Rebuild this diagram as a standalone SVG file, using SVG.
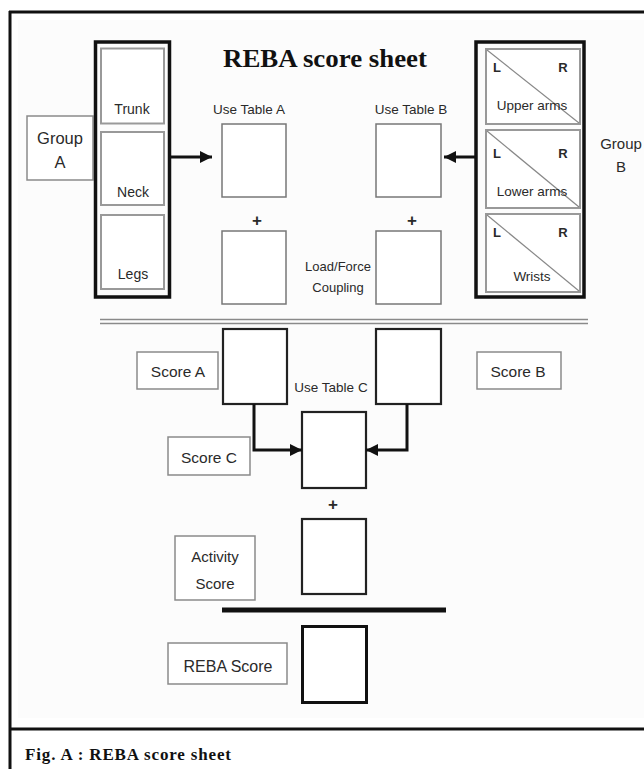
<svg xmlns="http://www.w3.org/2000/svg" width="644" height="769" viewBox="0 0 644 769">
  <defs>
    <marker id="ah" markerUnits="userSpaceOnUse" markerWidth="12" markerHeight="12" viewBox="0 0 12 12" refX="12" refY="6" orient="auto">
      <path d="M0,0 L12,6 L0,12 z" fill="#111"/>
    </marker>
    <style>
      .lbl { font-family: "Liberation Sans", Arial, sans-serif; fill: #2a2a2a; text-anchor: middle; }
      .gbox { fill: #fff; stroke: #8a8a8a; stroke-width: 1.5; }
      .cell { fill: #fff; stroke: #999; stroke-width: 2; }
      .frame { fill: none; stroke: #111; stroke-width: 3.5; }
      .sbox { fill: #fff; stroke: #777; stroke-width: 1.5; }
      .bbox { fill: #fff; stroke: #222; stroke-width: 2.2; }
      .diag { stroke: #888; stroke-width: 1.2; }
      .conn { fill: none; stroke: #111; stroke-width: 3; }
      .serif { font-family: "Liberation Serif", "Times New Roman", serif; font-weight: bold; fill: #111; }
    </style>
  </defs>

  <rect x="0" y="0" width="644" height="769" fill="#fff"/>
  <rect x="18" y="20" width="626" height="698" fill="#fcfcfc"/>

  <!-- outer figure frame -->
  <g id="figure-frame">
    <line x1="9" y1="12" x2="644" y2="12" stroke="#111" stroke-width="3"/>
    <line x1="10" y1="11" x2="10" y2="769" stroke="#111" stroke-width="3"/>
    <line x1="10" y1="729" x2="644" y2="729" stroke="#111" stroke-width="3"/>
  </g>

  <g id="title">
    <text class="serif" x="325" y="67" font-size="25" text-anchor="middle" textLength="204" lengthAdjust="spacingAndGlyphs">REBA score sheet</text>
  </g>

  <!-- Group A -->
  <g id="group-a-label">
    <rect class="gbox" x="27" y="116" width="66" height="64"/>
    <text class="lbl" x="60" y="144" font-size="16.5">Group</text>
    <text class="lbl" x="60" y="168" font-size="16.5">A</text>
  </g>
  <g id="group-a">
    <rect class="frame" x="95.5" y="42" width="74" height="255"/>
    <g id="trunk">
      <rect class="cell" x="101" y="48.5" width="63" height="75"/>
      <text class="lbl" x="132" y="114" font-size="14">Trunk</text>
    </g>
    <g id="neck">
      <rect class="cell" x="101" y="132" width="63" height="73"/>
      <text class="lbl" x="133" y="197" font-size="14">Neck</text>
    </g>
    <g id="legs">
      <rect class="cell" x="101" y="215" width="63" height="74"/>
      <text class="lbl" x="133" y="279" font-size="14">Legs</text>
    </g>
  </g>

  <!-- Table A column -->
  <g id="use-table-a">
    <text class="lbl" x="249" y="114" font-size="13.5">Use Table A</text>
    <rect class="sbox" x="222" y="124" width="64" height="73"/>
  </g>
  <g id="plus-a"><text class="lbl" x="257" y="226" font-size="17" font-weight="bold">+</text></g>
  <g id="load-a">
    <rect class="sbox" x="222" y="231" width="64" height="73"/>
  </g>

  <!-- Table B column -->
  <g id="use-table-b">
    <text class="lbl" x="411" y="114" font-size="13.5">Use Table B</text>
    <rect class="sbox" x="376" y="124" width="65" height="73"/>
  </g>
  <g id="plus-b"><text class="lbl" x="412" y="226" font-size="17" font-weight="bold">+</text></g>
  <g id="load-b">
    <rect class="sbox" x="376" y="231" width="65" height="73"/>
  </g>
  <g id="load-force-label">
    <text class="lbl" x="338" y="271" font-size="13">Load/Force</text>
    <text class="lbl" x="338" y="292" font-size="13">Coupling</text>
  </g>

  <!-- Group B -->
  <g id="group-b">
    <rect class="frame" x="476" y="42" width="108" height="255"/>
    <g id="upper-arms">
      <rect class="cell" x="486" y="49" width="94" height="75"/>
      <line class="diag" x1="487" y1="50" x2="579" y2="123"/>
      <text class="lbl" x="497" y="72" font-size="13" font-weight="bold">L</text>
      <text class="lbl" x="563" y="72" font-size="13" font-weight="bold">R</text>
      <text class="lbl" x="532" y="110" font-size="13.5">Upper arms</text>
    </g>
    <g id="lower-arms">
      <rect class="cell" x="486" y="130" width="94" height="78"/>
      <line class="diag" x1="487" y1="131" x2="579" y2="207"/>
      <text class="lbl" x="497" y="158" font-size="13" font-weight="bold">L</text>
      <text class="lbl" x="563" y="158" font-size="13" font-weight="bold">R</text>
      <text class="lbl" x="532" y="196" font-size="13.5">Lower arms</text>
    </g>
    <g id="wrists">
      <rect class="cell" x="486" y="214" width="94" height="78"/>
      <line class="diag" x1="487" y1="215" x2="579" y2="291"/>
      <text class="lbl" x="497" y="237" font-size="13" font-weight="bold">L</text>
      <text class="lbl" x="563" y="237" font-size="13" font-weight="bold">R</text>
      <text class="lbl" x="532" y="281" font-size="13.5">Wrists</text>
    </g>
  </g>
  <g id="group-b-label">
    <text class="lbl" x="621" y="149" font-size="15">Group</text>
    <text class="lbl" x="621" y="172" font-size="15">B</text>
  </g>

  <!-- separator -->
  <g id="separator">
    <line x1="100" y1="319.5" x2="588" y2="319.5" stroke="#8a8a8a" stroke-width="1.6"/>
    <line x1="100" y1="323.5" x2="588" y2="323.5" stroke="#8a8a8a" stroke-width="1.6"/>
  </g>

  <!-- Lower section -->
  <g id="score-a-label">
    <rect class="gbox" x="137" y="352" width="81" height="37"/>
    <text class="lbl" x="178" y="377" font-size="15.5">Score A</text>
  </g>
  <g id="score-a-box"><rect class="bbox" x="223" y="329" width="64" height="75"/></g>
  <g id="score-b-box"><rect class="bbox" x="376" y="329" width="65" height="75"/></g>
  <g id="score-b-label">
    <rect class="gbox" x="477" y="352" width="84" height="37"/>
    <text class="lbl" x="518" y="377" font-size="15.5">Score B</text>
  </g>
  <g id="use-table-c">
    <text class="lbl" x="331" y="392" font-size="13.5">Use Table C</text>
    <rect class="bbox" x="302" y="412" width="64" height="76"/>
  </g>
  <g id="score-c-label">
    <rect class="gbox" x="168" y="437" width="82" height="38"/>
    <text class="lbl" x="209" y="463" font-size="15.5">Score C</text>
  </g>
  <g id="plus-c"><text class="lbl" x="333" y="510" font-size="17" font-weight="bold">+</text></g>
  <g id="activity-box"><rect class="bbox" x="302" y="519" width="64" height="75"/></g>
  <g id="activity-label">
    <rect class="gbox" x="175" y="536" width="80" height="64"/>
    <text class="lbl" x="215" y="562" font-size="15">Activity</text>
    <text class="lbl" x="215" y="589" font-size="15">Score</text>
  </g>
  <g id="sum-line">
    <line x1="222" y1="610" x2="446" y2="610" stroke="#111" stroke-width="5"/>
  </g>
  <g id="reba-score-label">
    <rect class="gbox" x="168" y="643" width="119" height="41"/>
    <text class="lbl" x="228" y="672" font-size="16">REBA Score</text>
  </g>
  <g id="reba-score-box"><rect x="302.5" y="626.5" width="64" height="76" fill="#fff" stroke="#111" stroke-width="3"/></g>

  <!-- connectors -->
  <g id="connectors">
    <line class="conn" x1="170" y1="157" x2="212" y2="157" marker-end="url(#ah)"/>
    <line class="conn" x1="475" y1="157" x2="444" y2="157" marker-end="url(#ah)"/>
    <path class="conn" d="M254,404 V450 H302" marker-end="url(#ah)"/>
    <path class="conn" d="M407,404 V450 H366" marker-end="url(#ah)"/>
  </g>

  <g id="caption">
    <text class="serif" x="25" y="760" font-size="17" textLength="206" lengthAdjust="spacing">Fig. A : REBA score sheet</text>
  </g>
</svg>
